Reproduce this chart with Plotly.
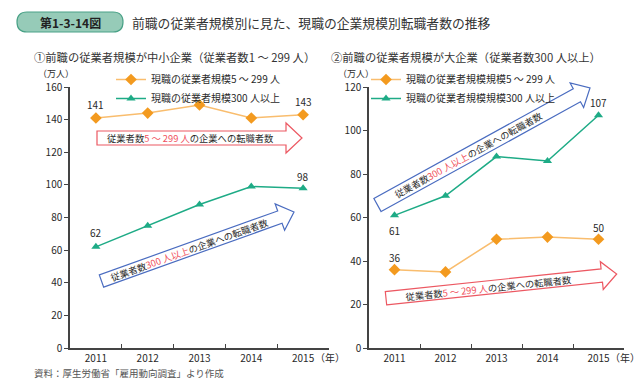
import math
import plotly.graph_objects as go

W, H = 640, 392
FONT = "Noto Sans CJK JP"

# ---------------- data ----------------
years = ["2011", "2012", "2013", "2014", "2015"]
left_small = [141, 144, 149, 141, 143]   # 現職の従業者規模5～299人
left_large = [62, 75, 88, 99, 98]        # 現職の従業者規模300人以上
right_small = [36, 35, 50, 51, 50]
right_large = [61, 70, 88, 86, 107]

left_yticks = [0, 20, 40, 60, 80, 100, 120, 140, 160]
right_yticks = [0, 20, 40, 60, 80, 100, 120]

left_names = ["現職の従業者規模5 ～ 299 人", "現職の従業者規模300 人以上"]
right_names = ["現職の従業者規模規模5 ～ 299 人", "現職の従業者規模規模300 人以上"]

title_tag = "第1-3-14図"
title_text = "前職の従業者規模別に見た、現職の企業規模別転職者数の推移"
sub_left = "①前職の従業者規模が中小企業（従業者数1 ～ 299 人）"
sub_right = "②前職の従業者規模が大企業（従業者数300 人以上）"
source_text = "資料：厚生労働省「雇用動向調査」より作成"

ORANGE_M = "#f39a1f"
ORANGE_L = "#f9bd6e"
GREEN = "#1eab86"
BLUE = "#4a6cc0"
RED = "#ec5862"
RED_TXT = "#f0505c"
AX = "#444444"
TXT = "#2a2a2a"


def px(x):
    return x / W


def py(y):
    return 1 - y / H


def arrow_path(x0, y0, x1, y1, bh, hh, hl):
    L = math.hypot(x1 - x0, y1 - y0)
    ux, uy = (x1 - x0) / L, (y1 - y0) / L
    nx, ny = -uy, ux
    bx, by = x1 - hl * ux, y1 - hl * uy
    pts = [
        (x0 + bh * nx, y0 + bh * ny),
        (bx + bh * nx, by + bh * ny),
        (bx + hh * nx, by + hh * ny),
        (x1, y1),
        (bx - hh * nx, by - hh * ny),
        (bx - bh * nx, by - bh * ny),
        (x0 - bh * nx, y0 - bh * ny),
    ]
    return "M " + " L ".join(f"{px(a):.5f},{py(b):.5f}" for a, b in pts) + " Z"


def pill_path(x0, y0, x1, y1, r):
    P = lambda a, b: f"{px(a):.5f},{py(b):.5f}"
    return (f"M {P(x0 + r, y0)} L {P(x1 - r, y0)} Q {P(x1, y0)} {P(x1, y0 + r)} "
            f"L {P(x1, y1 - r)} Q {P(x1, y1)} {P(x1 - r, y1)} L {P(x0 + r, y1)} "
            f"Q {P(x0, y1)} {P(x0, y1 - r)} L {P(x0, y0 + r)} Q {P(x0, y0)} {P(x0 + r, y0)} Z")


fig = go.Figure()

def add_pair(xa, ya, leg, small, large, names):
    fig.add_trace(go.Scatter(
        x=years, y=small, name=names[0], mode="lines+markers",
        xaxis=xa, yaxis=ya, legend=leg,
        line=dict(color=ORANGE_L, width=1.5),
        marker=dict(symbol="diamond", size=9, color=ORANGE_M)))
    fig.add_trace(go.Scatter(
        x=years, y=large, name=names[1], mode="lines+markers",
        xaxis=xa, yaxis=ya, legend=leg,
        line=dict(color=GREEN, width=1.5),
        marker=dict(symbol="triangle-up", size=8, color=GREEN)))

add_pair("x", "y", "legend", left_small, left_large, left_names)
add_pair("x2", "y2", "legend2", right_small, right_large, right_names)

xcommon = dict(type="category", range=[-0.5, 4.5], tickson="boundaries",
               ticks="inside", ticklen=4, tickcolor=AX, tickwidth=1.2,
               showline=True, linecolor=AX, linewidth=1.5, showgrid=False,
               zeroline=False, tickfont=dict(size=10, color=TXT, family=FONT),
               automargin=False, fixedrange=True)
ycommon = dict(ticks="outside", ticklen=4, tickcolor=AX, tickwidth=1.2,
               showline=True, linecolor=AX, linewidth=1.5, showgrid=False,
               zeroline=False, tickfont=dict(size=10, color=TXT, family=FONT),
               automargin=False, fixedrange=True)

ydom = [py(348), py(87)]
fig.update_layout(
    xaxis=dict(domain=[px(70), px(329)], anchor="y", **xcommon),
    yaxis=dict(domain=ydom, anchor="x", range=[0, 160], tickvals=left_yticks, **ycommon),
    xaxis2=dict(domain=[px(369), px(624)], anchor="y2", **xcommon),
    yaxis2=dict(domain=ydom, anchor="x2", range=[0, 120], tickvals=right_yticks, **ycommon),
)

legcommon = dict(xanchor="left", yanchor="top", bgcolor="rgba(0,0,0,0)",
                 font=dict(size=10, color=TXT, family=FONT), tracegroupgap=0,
                 itemwidth=30, borderwidth=0)
fig.update_layout(
    legend=dict(x=px(111), y=py(65), **legcommon),
    legend2=dict(x=px(366), y=py(65), **legcommon),
)

shapes = []
# title pill
shapes.append(dict(type="path", xref="paper", yref="paper", path=pill_path(17, 12, 123, 32, 10),
                   fillcolor="#96cbb8", line=dict(color="#4aa287", width=1.2), layer="below"))
# arrows
shapes.append(dict(type="path", xref="paper", yref="paper",
                   path=arrow_path(97, 138, 302, 138, 7, 15, 16),
                   fillcolor="white", line=dict(color=RED, width=1.2), layer="below"))
shapes.append(dict(type="path", xref="paper", yref="paper",
                   path=arrow_path(101.5, 281, 294, 212, 6.5, 14, 15),
                   fillcolor="white", line=dict(color=BLUE, width=1.2), layer="below"))
shapes.append(dict(type="path", xref="paper", yref="paper",
                   path=arrow_path(377.5, 205, 590, 88, 7.5, 14, 15),
                   fillcolor="white", line=dict(color=BLUE, width=1.2), layer="below"))
shapes.append(dict(type="path", xref="paper", yref="paper",
                   path=arrow_path(386, 298.3, 616.7, 274, 6.7, 14, 15),
                   fillcolor="white", line=dict(color=RED, width=1.2), layer="below"))

ann = []
def T(x, y, text, size=10, color=TXT, xanchor="center", angle=0):
    ann.append(dict(x=px(x), y=py(y), xref="paper", yref="paper", text=text,
                    showarrow=False, xanchor=xanchor, yanchor="middle", textangle=angle,
                    font=dict(size=size, color=color, family=FONT)))

T(70, 22, "<b>" + title_tag + "</b>", size=12, color="#222")
T(130, 22, title_text, size=12.8, color="#333", xanchor="left")
T(32, 57, sub_left, size=11.3, color="#333", xanchor="left")
T(329, 57, sub_right, size=11.3, color="#333", xanchor="left")
T(56, 74, "（万人）", size=9)
T(356, 74, "（万人）", size=9)
T(313, 357, "（年）", size=10, xanchor="left")
T(608, 357, "（年）", size=10, xanchor="left")
T(32, 373, source_text, size=9.5, color="#555", xanchor="left")

small_red = lambda s: f'<span style="color:{RED_TXT}">{s}</span>'
ARW = 9.3
T(190, 138, "従業者数" + small_red("5 ～ 299 人") + "の企業への転職者数", size=ARW)
T(188.5, 250, "従業者数" + small_red("300 人以上") + "の企業への転職者数", size=ARW, angle=-19.7)
T(468, 155, "従業者数" + small_red("300 人以上") + "の企業への転職者数", size=ARW, angle=-28.8)
T(488, 287.5, "従業者数" + small_red("5 ～ 299 人") + "の企業への転職者数", size=ARW, angle=-6.0)

def data_label(xa, ya, series, idx, shift):
    # category axes take the serial index of the category for annotations
    ann.append(dict(x=idx, y=series[idx], xref=xa, yref=ya, text=str(series[idx]),
                    showarrow=False, yshift=shift, xanchor="center", yanchor="middle",
                    font=dict(size=10, color=TXT, family=FONT)))

data_label("x", "y", left_small, 0, 13)
data_label("x", "y", left_small, 4, 13)
data_label("x", "y", left_large, 0, 14)
data_label("x", "y", left_large, 4, 12)
data_label("x2", "y2", right_large, 0, -15)
data_label("x2", "y2", right_large, 4, 13)
data_label("x2", "y2", right_small, 0, 12)
data_label("x2", "y2", right_small, 4, 12)

fig.update_layout(
    width=W, height=H,
    margin=dict(l=0, r=0, t=0, b=0, autoexpand=False),
    paper_bgcolor="white", plot_bgcolor="white",
    font=dict(family=FONT, size=10, color=TXT),
    shapes=shapes, annotations=ann, showlegend=True,
)

fig.write_html("out.html", config={"displayModeBar": False},
               post_script="document.body.style.margin='0px';document.body.style.overflow='hidden';")
